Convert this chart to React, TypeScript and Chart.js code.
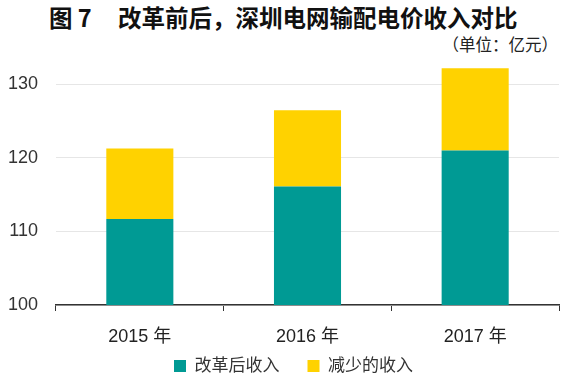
import React, { useEffect, useRef } from "react";
import { Chart, registerables } from "chart.js";

Chart.register(...registerables);

const categories = ["2015 年", "2016 年", "2017 年"];
const afterReform = [111.7, 116.1, 121.0];
const reducedTop = [121.3, 126.5, 132.2];
const reduced = reducedTop.map((t, i) => +(t - afterReform[i]).toFixed(1));
const seriesNames = ["改革后收入", "减少的收入"];
const yTicks = [100, 110, 120, 130];

const TEAL = "#009a94";
const YELLOW = "#ffd200";
const FONT = "'Liberation Sans', Arial, 'Noto Sans CJK SC', sans-serif";
const CJK = "'Noto Sans CJK SC', sans-serif";

const legendTweak = {
  id: "legendTweak",
  beforeLayout(chart: any) {
    const lg = chart.legend;
    if (lg && !lg.__patched) {
      const f = lg.fit;
      lg.fit = function () {
        f.call(this);
        this.height = 32;
      };
      lg.__patched = true;
    }
  },
  afterLayout(chart: any) {
    const lg = chart.legend;
    if (lg) {
      lg.left += 14;
      lg.right += 14;
      lg.top = 329.5;
      lg.bottom = 377;
    }
  },
};

export default function App() {
  const ref = useRef<HTMLCanvasElement>(null);
  useEffect(() => {
    document.body.style.margin = "0";
    const chart = new Chart(ref.current!, {
      type: "bar",
      data: {
        labels: categories,
        datasets: [
          { label: seriesNames[0], data: afterReform, backgroundColor: TEAL },
          { label: seriesNames[1], data: reduced, backgroundColor: YELLOW },
        ],
      },
      plugins: [legendTweak],
      options: {
        animation: false,
        responsive: false,
        maintainAspectRatio: false,
        layout: { padding: { top: 55, right: 21, left: 0, bottom: 0 } },
        datasets: { bar: { categoryPercentage: 1, barPercentage: 0.4 } },
        plugins: {
          legend: {
            position: "bottom",
            labels: {
              font: { family: FONT, size: 17 },
              color: "#333",
              boxWidth: 12,
              boxHeight: 12,
              padding: 28,
            },
          },
          tooltip: { enabled: false },
        },
        scales: {
          x: {
            stacked: true,
            grid: {
              display: true,
              drawOnChartArea: false,
              drawTicks: true,
              tickLength: 6,
              color: "#333",
              offset: true,
            },
            border: { display: true, color: "#333", width: 1.5 },
            ticks: { font: { family: FONT, size: 18 }, color: "#222", padding: 15 },
            afterFit: (axis: any) => {
              axis.height = 40;
            },
          },
          y: {
            stacked: true,
            min: 100,
            max: 134,
            afterBuildTicks: (axis: any) => {
              axis.ticks = yTicks.map((v) => ({ value: v }));
            },
            afterFit: (axis: any) => {
              axis.width = 56;
            },
            grid: { color: "#e6e6e6", drawTicks: false },
            border: { display: false },
            ticks: { font: { family: FONT, size: 18 }, color: "#333", padding: 18 },
          },
        },
      },
    });
    return () => chart.destroy();
  }, []);

  return (
    <div style={{ position: "relative", width: 580, height: 377, background: "#fff", fontFamily: FONT }}>
      <div
        style={{
          position: "absolute",
          left: 49,
          top: 3,
          fontSize: 23.5,
          lineHeight: "28px",
          fontWeight: "bold",
          color: "#111",
          whiteSpace: "pre",
          fontFamily: CJK,
        }}
      >
        图 7
      </div>
      <div
        style={{
          position: "absolute",
          left: 118,
          top: 3,
          fontSize: 23.5,
          lineHeight: "28px",
          fontWeight: "bold",
          color: "#111",
          whiteSpace: "pre",
          fontFamily: CJK,
        }}
      >
        改革前后，深圳电网输配电价收入对比
      </div>
      <div
        style={{
          position: "absolute",
          right: 22,
          top: 35,
          fontSize: 16.5,
          lineHeight: "18px",
          color: "#222",
          whiteSpace: "pre",
          fontFamily: CJK,
        }}
      >
        （单位：亿元）
      </div>
      <canvas ref={ref} width={580} height={377} style={{ position: "absolute", left: 0, top: 0 }} />
    </div>
  );
}
